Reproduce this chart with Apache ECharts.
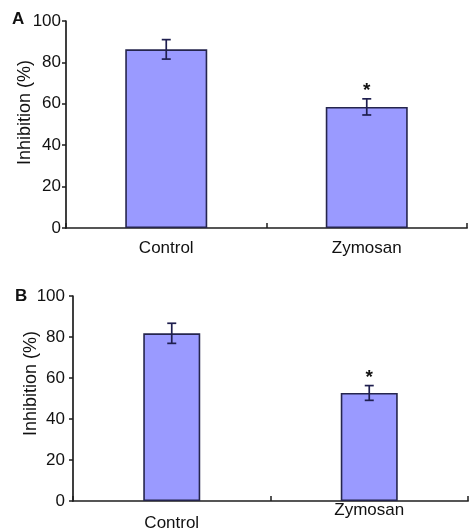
<!DOCTYPE html>
<html>
<head>
<meta charset="utf-8">
<script src="https://cdn.jsdelivr.net/npm/echarts@6/dist/echarts.min.js"></script>
<style>
html,body{margin:0;padding:0;background:#fff;}
#main{width:469px;height:532px;}
</style>
</head>
<body>
<div id="main"></div>
<script>
var categories = ['Control', 'Zymosan'];
var meansA = [86.3, 58.5];
var errA = [4.7, 3.9];
var meansB = [81.8, 52.7];
var errB = [4.9, 3.6];
var sig = ['', '*'];
var yTicks = [0, 20, 40, 60, 80, 100];

var FONT = '"Liberation Sans", Arial, sans-serif';
var AXIS = '#1e1e1e';
var TEXT = '#111111';
var BARFILL = '#9a9aff';
var BARLINE = '#25254d';
var ERR = '#1f1f4f';

function errData(means, errs) {
  return means.map(function (m, i) { return [i, m - errs[i], m + errs[i]]; });
}

function renderErr(params, api) {
  var x = api.value(0);
  var lo = api.value(1), hi = api.value(2);
  var s = sig[params.dataIndex];
  var pHi = api.coord([x, hi]);
  var pLo = api.coord([x, lo]);
  var hw = 4.5;
  var style = { stroke: ERR, lineWidth: 1.7 };
  var children = [
    { type: 'line', shape: { x1: pHi[0], y1: pHi[1], x2: pLo[0], y2: pLo[1] }, style: style },
    { type: 'line', shape: { x1: pHi[0] - hw, y1: pHi[1], x2: pHi[0] + hw, y2: pHi[1] }, style: style },
    { type: 'line', shape: { x1: pLo[0] - hw, y1: pLo[1], x2: pLo[0] + hw, y2: pLo[1] }, style: style }
  ];
  if (s) {
    children.push({
      type: 'text',
      style: { text: s, x: pHi[0], y: pHi[1] - 8, align: 'center', verticalAlign: 'middle',
               fill: '#111', font: 'bold 19px ' + FONT }
    });
  }
  return { type: 'group', children: children };
}

function xAxis(gi, catLabels, margin) {
  return {
    type: 'category', gridIndex: gi, data: catLabels,
    axisLine: { lineStyle: { color: AXIS, width: 1.7 } },
    axisTick: { show: true, inside: true, length: 5, lineStyle: { color: AXIS, width: 1.5 } },
    axisLabel: { color: TEXT, fontSize: 17, fontFamily: FONT, margin: margin }
  };
}
function yAxis(gi, margin, namePad, nameGap) {
  return {
    type: 'value', gridIndex: gi, min: 0, max: 100, interval: 20,
    name: 'Inhibition (%)', nameLocation: 'middle', nameGap: nameGap, nameMoveOverlap: false,
    nameTextStyle: { color: TEXT, fontSize: 18, fontFamily: FONT, padding: [0, 0, 0, namePad] },
    axisLine: { show: true, lineStyle: { color: AXIS, width: 1.7 } },
    axisTick: { show: true, length: 4, lineStyle: { color: AXIS, width: 1.5 } },
    splitLine: { show: false },
    axisLabel: { color: TEXT, fontSize: 17, fontFamily: FONT, margin: margin,
      formatter: function (v) { return yTicks.indexOf(v) >= 0 ? String(v) : ''; } }
  };
}

var catB = [
  { value: categories[0], textStyle: { padding: [13, 0, 0, 0] } },
  { value: categories[1], textStyle: { padding: [0, 0, 0, 0] } }
];

var chart = echarts.init(document.getElementById('main'), null, { renderer: 'canvas' });
chart.setOption({
  backgroundColor: '#ffffff',
  animation: false,
  grid: [
    { left: 66, right: 2, top: 21, height: 207, outerBoundsMode: 'none' },
    { left: 73, right: 1, top: 296, height: 205, outerBoundsMode: 'none' }
  ],
  xAxis: [ xAxis(0, categories, 12), xAxis(1, catB, 1) ],
  yAxis: [ yAxis(0, 5, 24, 32), yAxis(1, 8, 30, 33) ],
  graphic: [
    { type: 'text', left: 12, top: 11, style: { text: 'A', font: 'bold 17px ' + FONT, fill: '#111' } },
    { type: 'text', left: 15, top: 288, style: { text: 'B', font: 'bold 17px ' + FONT, fill: '#111' } }
  ],
  series: [
    { type: 'bar', xAxisIndex: 0, yAxisIndex: 0, data: meansA, barWidth: 82,
      itemStyle: { color: BARFILL, borderColor: BARLINE, borderWidth: 1.6 } },
    { type: 'custom', xAxisIndex: 0, yAxisIndex: 0, data: errData(meansA, errA), renderItem: renderErr, z: 5 },
    { type: 'bar', xAxisIndex: 1, yAxisIndex: 1, data: meansB, barWidth: 57,
      itemStyle: { color: BARFILL, borderColor: BARLINE, borderWidth: 1.6 } },
    { type: 'custom', xAxisIndex: 1, yAxisIndex: 1, data: errData(meansB, errB), renderItem: renderErr, z: 5 }
  ]
});
</script>
</body>
</html>
